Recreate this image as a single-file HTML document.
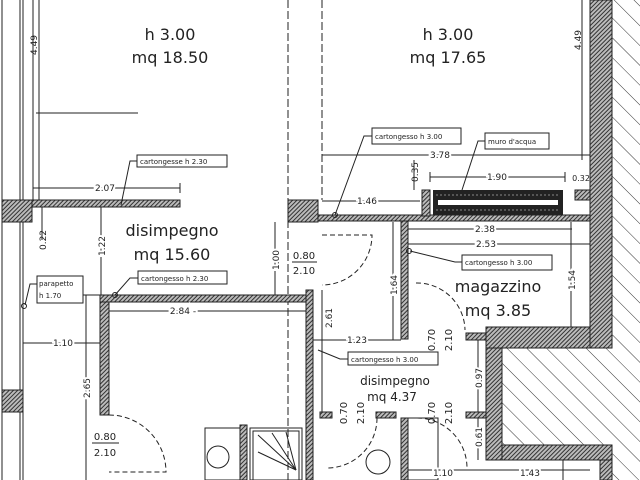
<!DOCTYPE html>
<html><head><meta charset="utf-8"><style>
html,body{margin:0;padding:0;background:#fff;}
svg{display:block;}
text{font-family:"DejaVu Sans","Liberation Sans",sans-serif;fill:#222;}
.s{font-size:9px;}
.l{font-size:7px;}
.b{font-size:16px;}
</style></head><body>
<svg width="640" height="480" viewBox="0 0 640 480" xmlns="http://www.w3.org/2000/svg">
<defs>
<pattern id="h" width="3" height="3" patternUnits="userSpaceOnUse" patternTransform="rotate(45)">
<rect width="3" height="3" fill="#bbb"/><line x1="0" y1="0" x2="0" y2="3" stroke="#333" stroke-width="2"/></pattern>
<pattern id="d" width="14" height="14" patternUnits="userSpaceOnUse" patternTransform="rotate(-45)">
<rect width="14" height="14" fill="#fff"/><line x1="0" y1="0" x2="0" y2="14" stroke="#333" stroke-width="1"/></pattern>
</defs>
<rect x="502" y="348" width="138" height="97" fill="url(#d)"/>
<rect x="610" y="0" width="30" height="480" fill="url(#d)"/>
<g stroke="#222" fill="none" stroke-width="1">
<line x1="2" y1="0" x2="2" y2="480"/><line x1="20" y1="0" x2="20" y2="480"/><line x1="23" y1="0" x2="23" y2="480"/><line x1="33" y1="0" x2="33" y2="200"/>
<line x1="36" y1="113" x2="138" y2="113"/>
<line x1="288" y1="0" x2="288" y2="480" stroke-dasharray="8,3"/>
<line x1="322" y1="0" x2="322" y2="200" stroke-dasharray="8,3"/>
<line x1="582" y1="0" x2="582" y2="160"/>
</g>
<g fill="url(#h)" stroke="#222" stroke-width="1">
<rect x="2" y="200" width="30" height="22"/>
<rect x="32" y="200" width="148" height="7"/>
<rect x="288" y="200" width="30" height="22"/>
<rect x="318" y="215" width="272" height="6"/>
<rect x="422" y="190" width="8" height="26"/>
<rect x="575" y="190" width="15" height="10"/>
<rect x="590" y="0" width="22" height="348"/>
<rect x="401" y="221" width="7" height="118"/>
<rect x="466" y="333" width="20" height="7"/>
<rect x="486" y="327" width="104" height="21"/>
<rect x="486" y="348" width="16" height="112"/>
<rect x="502" y="445" width="110" height="15"/>
<rect x="600" y="460" width="12" height="20"/>
<rect x="100" y="295" width="213" height="7"/>
<rect x="100" y="302" width="9" height="113"/>
<rect x="306" y="290" width="7" height="190"/>
<rect x="2" y="390" width="21" height="22"/>
<rect x="466" y="412" width="20" height="6"/>
<rect x="376" y="412" width="20" height="6"/>
<rect x="320" y="412" width="12" height="6"/>
<rect x="401" y="418" width="7" height="62"/>
<rect x="240" y="425" width="7" height="55"/>
</g>
<line x1="563" y1="460" x2="563" y2="480" stroke="#222"/>
<rect x="433" y="190" width="130" height="25" fill="#222"/>
<g stroke="#888" stroke-width="1" stroke-dasharray="2,2"><line x1="436" y1="195" x2="560" y2="195"/><line x1="436" y1="210" x2="560" y2="210"/></g>
<rect x="438" y="200" width="120" height="5" fill="#fff"/>
<g stroke="#222" stroke-width="1" fill="none">
<line x1="33" y1="188" x2="180" y2="188"/><line x1="33" y1="183" x2="33" y2="193"/><line x1="180" y1="183" x2="180" y2="193"/>
<line x1="322" y1="155" x2="590" y2="155"/>
<line x1="430" y1="177" x2="565" y2="177"/><line x1="430" y1="172" x2="430" y2="182"/><line x1="565" y1="172" x2="565" y2="182"/>
<line x1="322" y1="201" x2="420" y2="201"/>
<line x1="414" y1="160" x2="414" y2="190"/>
<line x1="408" y1="229" x2="572" y2="229"/><line x1="408" y1="244" x2="590" y2="244"/>
<line x1="393" y1="222" x2="393" y2="340"/><line x1="571" y1="222" x2="571" y2="327"/>
<line x1="101" y1="207" x2="101" y2="295"/><line x1="42" y1="207" x2="42" y2="240"/>
<line x1="275" y1="222" x2="275" y2="295"/>
<line x1="109" y1="311" x2="306" y2="311"/>
<line x1="23" y1="343" x2="100" y2="343"/>
<line x1="86" y1="295" x2="86" y2="480"/>
<line x1="322" y1="290" x2="322" y2="412"/>
<line x1="313" y1="340" x2="401" y2="340"/>
<line x1="478" y1="340" x2="478" y2="412"/><line x1="478" y1="418" x2="478" y2="460"/>
<line x1="408" y1="470" x2="590" y2="470"/>
<line x1="39" y1="0" x2="39" y2="200"/>
</g>
<g stroke="#222" stroke-width="1" fill="none" stroke-dasharray="5,3">
<path d="M 322 235 L 372 235 A 50 50 0 0 1 322 285"/>
<path d="M 109 415 A 57 57 0 0 1 166 472 L 109 472"/>
<path d="M 416 283 A 48 48 0 0 1 465 330"/>
<path d="M 377 418 A 50 50 0 0 1 327 468"/>
<path d="M 417 418 A 50 50 0 0 1 467 468"/>
</g>
<g stroke="#222" fill="none">
<rect x="205" y="428" width="35" height="52"/><circle cx="218" cy="457" r="11"/>
<rect x="250" y="428" width="52" height="52"/><rect x="253" y="431" width="46" height="49"/>
<line x1="296" y1="470" x2="258" y2="435"/><line x1="296" y1="470" x2="272" y2="433"/><line x1="296" y1="470" x2="286" y2="432"/><line x1="296" y1="470" x2="258" y2="452"/>
<rect x="408" y="418" width="30" height="62"/><circle cx="378" cy="462" r="12"/>
</g>
<g stroke="#222" fill="#fff" stroke-width="1">
<rect x="137" y="155" width="90" height="12"/>
<rect x="372" y="128" width="89" height="16"/>
<rect x="485" y="133" width="64" height="16"/>
<rect x="462" y="255" width="90" height="15"/>
<rect x="138" y="271" width="89" height="13"/>
<rect x="37" y="276" width="46" height="27"/>
<rect x="348" y="352" width="90" height="13"/>
</g>
<g stroke="#222" fill="none">
<polyline points="137,161 130,161 121,205"/>
<polyline points="372,136 364,136 335,215"/><circle cx="335" cy="215" r="2.5"/>
<polyline points="485,141 478,141 462,190"/>
<polyline points="462,262 455,262 410,251"/><circle cx="409" cy="251" r="2.5"/>
<polyline points="138,278 130,278 115,295"/><circle cx="115" cy="295" r="2.5"/>
<polyline points="37,284 30,284 25,305"/><circle cx="24" cy="306" r="2.5"/>
<polyline points="348,359 340,359 318,350"/>
<line x1="83" y1="295" x2="100" y2="295"/>
</g>
<text class="l" x="140" y="164">cartongesse h 2.30</text>
<text class="l" x="375" y="139">cartongesso h 3.00</text>
<text class="l" x="488" y="144">muro d'acqua</text>
<text class="l" x="465" y="265">cartongesso h 3.00</text>
<text class="l" x="141" y="281">cartongesso h 2.30</text>
<text class="l" x="39" y="286">parapetto</text><text class="l" x="39" y="298">h 1.70</text>
<text class="l" x="351" y="362">cartongesso h 3.00</text>
<text class="b" x="170" y="40" text-anchor="middle">h 3.00</text>
<text class="b" x="170" y="63" text-anchor="middle">mq 18.50</text>
<text class="b" x="448" y="40" text-anchor="middle">h 3.00</text>
<text class="b" x="448" y="63" text-anchor="middle">mq 17.65</text>
<text class="b" x="172" y="236" text-anchor="middle">disimpegno</text>
<text class="b" x="172" y="260" text-anchor="middle">mq 15.60</text>
<text class="b" x="498" y="292" text-anchor="middle">magazzino</text>
<text class="b" x="498" y="316" text-anchor="middle">mq 3.85</text>
<text x="395" y="385" font-size="12" text-anchor="middle">disimpegno</text>
<text x="392" y="401" font-size="12" text-anchor="middle">mq 4.37</text>
<g class="s">
<text x="105" y="191" text-anchor="middle" style="paint-order:stroke" stroke="#fff" stroke-width="4">2.07</text>
<text x="440" y="158" text-anchor="middle" stroke="#fff" stroke-width="4" style="paint-order:stroke">3.78</text>
<text x="497" y="180" text-anchor="middle" stroke="#fff" stroke-width="4" style="paint-order:stroke">1.90</text>
<text x="367" y="204" text-anchor="middle" stroke="#fff" stroke-width="4" style="paint-order:stroke">1.46</text>
<text x="581" y="181" text-anchor="middle" font-size="8">0.32</text>
<text x="485" y="232" text-anchor="middle" stroke="#fff" stroke-width="4" style="paint-order:stroke">2.38</text>
<text x="486" y="247" text-anchor="middle" stroke="#fff" stroke-width="4" style="paint-order:stroke">2.53</text>
<text x="183" y="314" text-anchor="middle" stroke="#fff" stroke-width="4" style="paint-order:stroke">2.84 -</text>
<text x="63" y="346" text-anchor="middle" stroke="#fff" stroke-width="4" style="paint-order:stroke">1.10</text>
<text x="357" y="343" text-anchor="middle" stroke="#fff" stroke-width="4" style="paint-order:stroke">1.23</text>
<text x="443" y="476" text-anchor="middle" stroke="#fff" stroke-width="4" style="paint-order:stroke">1.10</text>
<text x="530" y="476" text-anchor="middle" stroke="#fff" stroke-width="4" style="paint-order:stroke">1.43</text>
<text transform="translate(37,45) rotate(-90)" text-anchor="middle">4.49</text>
<text transform="translate(581,40) rotate(-90)" text-anchor="middle">4.49</text>
<text transform="translate(46,240) rotate(-90)" text-anchor="middle">0.22</text>
<text transform="translate(105,246) rotate(-90)" text-anchor="middle" stroke="#fff" stroke-width="4" style="paint-order:stroke">1.22</text>
<text transform="translate(279,260) rotate(-90)" text-anchor="middle" stroke="#fff" stroke-width="4" style="paint-order:stroke">1.00</text>
<text transform="translate(418,172) rotate(-90)" text-anchor="middle">0.35</text>
<text transform="translate(397,285) rotate(-90)" text-anchor="middle" stroke="#fff" stroke-width="4" style="paint-order:stroke">1.64</text>
<text transform="translate(575,280) rotate(-90)" text-anchor="middle" stroke="#fff" stroke-width="4" style="paint-order:stroke">1.54</text>
<text transform="translate(332,318) rotate(-90)" text-anchor="middle" stroke="#fff" stroke-width="4" style="paint-order:stroke">2.61</text>
<text transform="translate(90,388) rotate(-90)" text-anchor="middle" stroke="#fff" stroke-width="4" style="paint-order:stroke">2.65</text>
<text transform="translate(482,378) rotate(-90)" text-anchor="middle" stroke="#fff" stroke-width="4" style="paint-order:stroke">0.97</text>
<text transform="translate(482,437) rotate(-90)" text-anchor="middle" stroke="#fff" stroke-width="4" style="paint-order:stroke">0.61</text>
</g>
<g font-size="10">
<text x="304" y="259" text-anchor="middle">0.80</text><line x1="292" y1="262" x2="317" y2="262" stroke="#222"/><text x="304" y="274" text-anchor="middle">2.10</text>
<text x="105" y="440" text-anchor="middle">0.80</text><line x1="92" y1="443" x2="119" y2="443" stroke="#222"/><text x="105" y="456" text-anchor="middle">2.10</text>
<text transform="translate(435,340) rotate(-90)" text-anchor="middle">0.70</text><text transform="translate(452,340) rotate(-90)" text-anchor="middle">2.10</text>
<text transform="translate(347,413) rotate(-90)" text-anchor="middle">0.70</text><text transform="translate(364,413) rotate(-90)" text-anchor="middle">2.10</text>
<text transform="translate(435,413) rotate(-90)" text-anchor="middle">0.70</text><text transform="translate(452,413) rotate(-90)" text-anchor="middle">2.10</text>
</g>
</svg>
</body></html>
